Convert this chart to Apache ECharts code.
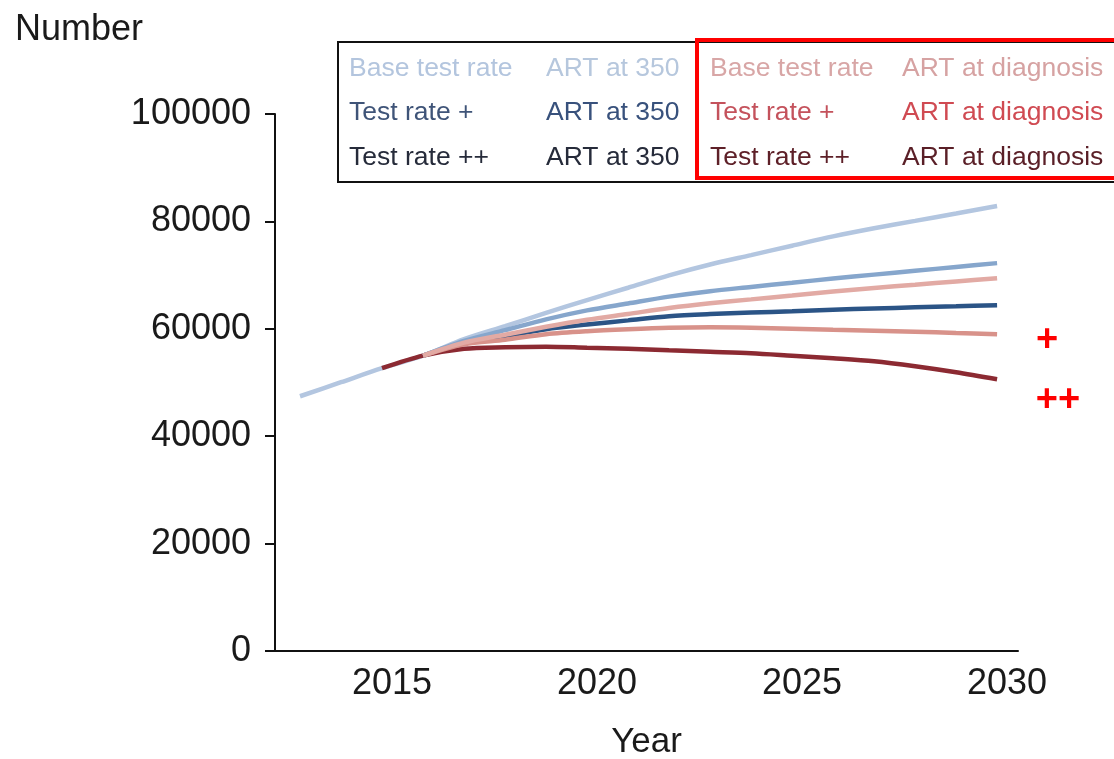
<!DOCTYPE html>
<html>
<head>
<meta charset="utf-8">
<title>Number by year</title>
<script src="https://cdn.jsdelivr.net/npm/echarts@6/dist/echarts.min.js"></script>
<style>
    html, body {
        margin: 0;
        padding: 0;
        background: #fff;
    }
    #chart {
        width: 1114px;
        height: 759px;
    }
</style>
</head>
<body>
<div id="chart"></div>
<script>
// years and values
let years = [2013, 2014, 2015, 2016, 2017, 2018, 2019, 2020, 2021, 2022, 2023, 2024, 2025, 2026, 2027, 2028, 2029, 2030]
let yearTicks = [2015, 2020, 2025, 2030]

let baseArt350 = [47440, 50050, 52660, 55000, 58070, 60490, 62950, 65350, 67640, 69940, 71970, 73720, 75470, 77210, 78730, 80100, 81470, 82860]
let plusArt350 = [null, null, null, 55000, 57750, 59740, 61760, 63430, 64720, 65990, 67010, 67800, 68580, 69360, 70090, 70800, 71520, 72230]
let plus2Art350 = [null, null, null, 55000, 57330, 58620, 59930, 60800, 61570, 62330, 62740, 63020, 63280, 63560, 63790, 63990, 64190, 64400]
let baseDiag = [null, null, null, 55000, 57430, 58900, 60370, 61680, 62760, 63860, 64750, 65480, 66210, 66950, 67610, 68200, 68820, 69430]
let plusDiag = [null, null, null, 55000, 57130, 57970, 59000, 59560, 59930, 60210, 60300, 60210, 60020, 59830, 59650, 59460, 59220, 59000]
let plus2Diag = [null, null, 52660, 55000, 56290, 56570, 56670, 56480, 56290, 56010, 55730, 55450, 54990, 54520, 53960, 53030, 51910, 50610]

// legend table: [test rate, ART, colour, colour]
let legendLeft = [
    ['Base test rate', 'ART at 350', '#b3c5de', '#b6c7dd'],
    ['Test rate +', 'ART at 350', '#3f5478', '#38517c'],
    ['Test rate ++', 'ART at 350', '#262b3a', '#262b3a']
]
let legendRight = [
    ['Base test rate', 'ART at diagnosis', '#d8a6a6', '#d6a2a2'],
    ['Test rate +', 'ART at diagnosis', '#c4525c', '#d04a52'],
    ['Test rate ++', 'ART at diagnosis', '#5e2028', '#5a1f27']
]

const FONT = "'Liberation Sans', Arial, Helvetica, sans-serif"

function toPairs(vals) {
    return years.map((y, i) => [y, vals[i]])
}

function makeLine(name, vals, color) {
    return {
        name: name,
        type: 'line',
        data: toPairs(vals),
        smooth: 0.3,
        showSymbol: false,
        connectNulls: false,
        lineStyle: {
            color: color,
            width: 4.5
        }
    }
}

let graphics = [
    {
        type: 'rect',
        shape: { x: 338, y: 42, width: 820, height: 140 },
        style: { fill: null, stroke: '#111', lineWidth: 2 }
    },
    {
        type: 'rect',
        shape: { x: 697, y: 40, width: 440, height: 138 },
        style: { fill: null, stroke: '#ff0000', lineWidth: 4 }
    }
]
let rowY = [69, 113, 158]
legendLeft.forEach((row, i) => {
    graphics.push({ type: 'text', x: 349, y: rowY[i], style: { text: row[0], fill: row[2], fontSize: 26.5, fontFamily: FONT, verticalAlign: 'middle' } })
    graphics.push({ type: 'text', x: 546, y: rowY[i], style: { text: row[1], fill: row[3], fontSize: 26.5, fontFamily: FONT, verticalAlign: 'middle' } })
})
legendRight.forEach((row, i) => {
    graphics.push({ type: 'text', x: 710, y: rowY[i], style: { text: row[0], fill: row[2], fontSize: 26.5, fontFamily: FONT, verticalAlign: 'middle' } })
    graphics.push({ type: 'text', x: 902, y: rowY[i], style: { text: row[1], fill: row[3], fontSize: 26.5, fontFamily: FONT, verticalAlign: 'middle' } })
})
graphics.push({ type: 'text', x: 1047, y: 341, style: { text: '+', fill: '#ff0000', fontSize: 38, fontWeight: 'bold', fontFamily: FONT, align: 'center', verticalAlign: 'middle' } })
graphics.push({ type: 'text', x: 1058, y: 401, style: { text: '++', fill: '#ff0000', fontSize: 38, fontWeight: 'bold', fontFamily: FONT, align: 'center', verticalAlign: 'middle' } })

let option = {
    animation: false,
    backgroundColor: '#fff',
    textStyle: { fontFamily: FONT },
    title: {
        text: 'Number',
        left: 10,
        top: 7,
        textStyle: { fontSize: 36, fontWeight: 'normal', color: '#1a1a1a', fontFamily: FONT }
    },
    grid: {
        left: 275,
        right: 96,
        top: 114,
        bottom: 108,
        outerBoundsMode: 'none'
    },
    xAxis: {
        type: 'value',
        min: 2012.39,
        max: 2030.51,
        name: 'Year',
        nameLocation: 'middle',
        nameGap: 74,
        nameTextStyle: { fontSize: 35, color: '#1a1a1a', fontFamily: FONT },
        splitLine: { show: false },
        axisTick: { show: false },
        axisLine: { lineStyle: { color: '#111', width: 2 } },
        axisLabel: {
            customValues: yearTicks,
            fontSize: 36,
            color: '#1a1a1a',
            margin: 15,
            padding: [0, 0, 0, 20],
            formatter: v => String(v)
        }
    },
    yAxis: {
        type: 'value',
        min: 0,
        max: 100000,
        interval: 20000,
        splitLine: { show: false },
        axisLine: { show: true, lineStyle: { color: '#111', width: 2 } },
        axisTick: { show: true, length: 10, lineStyle: { color: '#111', width: 2 } },
        axisLabel: { fontSize: 36, color: '#1a1a1a', margin: 24, formatter: v => String(v) }
    },
    graphic: graphics,
    series: [
        makeLine('Base test rate / ART at 350', baseArt350, '#b3c6e0'),
        makeLine('Test rate ++ / ART at diagnosis', plus2Diag, '#8c2a32'),
        makeLine('Test rate ++ / ART at 350', plus2Art350, '#2b5486'),
        makeLine('Test rate + / ART at 350', plusArt350, '#86a6cc'),
        makeLine('Test rate + / ART at diagnosis', plusDiag, '#d8928a'),
        makeLine('Base test rate / ART at diagnosis', baseDiag, '#e2aaa4')
    ]
}

let chart = echarts.init(document.getElementById('chart'))
chart.setOption(option)
window.addEventListener('resize', () => {
    chart.resize()
})
</script>
</body>
</html>
